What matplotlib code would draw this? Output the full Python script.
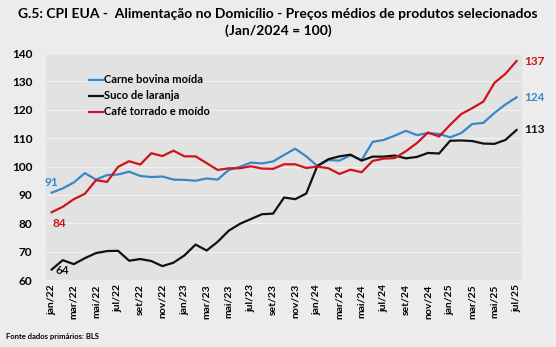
import matplotlib.pyplot as plt

plt.rcParams['font.family'] = ['Lato', 'DejaVu Sans']

meses = ["jan", "fev", "mar", "abr", "mai", "jun", "jul", "ago", "set", "out", "nov", "dez"]
datas = [f"{meses[m]}/{a}" for a in (22, 23, 24, 25) for m in range(12)][:43]

carne = [90.8, 92.3, 94.4, 97.7, 95.4, 97.0, 97.2, 98.2, 96.7, 96.3, 96.5, 95.4,
         95.3, 95.0, 95.8, 95.4, 98.8, 99.9, 101.4, 101.1, 101.8, 104.1, 106.3, 103.6,
         100.2, 102.3, 102.1, 104.0, 102.3, 108.7, 109.4, 110.9, 112.6, 111.1, 111.8, 111.5,
         110.3, 111.8, 115.0, 115.4, 118.9, 121.9, 124.4]
suco = [63.7, 67.0, 65.6, 67.7, 69.5, 70.2, 70.3, 66.8, 67.4, 66.7, 64.9, 66.1,
        68.7, 72.5, 70.4, 73.5, 77.4, 79.8, 81.5, 83.2, 83.4, 89.1, 88.5, 90.5,
        100.2, 102.6, 103.6, 104.2, 102.1, 103.5, 103.5, 103.9, 102.9, 103.4, 104.8, 104.6,
        109.1, 109.2, 109.0, 108.1, 108.0, 109.4, 112.9]
cafe = [83.9, 85.8, 88.5, 90.4, 95.2, 94.6, 99.9, 101.9, 100.7, 104.7, 103.7, 105.6,
        103.6, 103.6, 101.2, 98.8, 99.4, 99.4, 100.1, 99.3, 99.2, 100.8, 100.8, 99.5,
        100.0, 99.4, 97.4, 98.9, 98.0, 102.0, 102.8, 103.0, 105.4, 108.3, 112.0, 110.6,
        114.7, 118.5, 120.6, 122.9, 129.5, 132.7, 137.2]

series = [
    ("Carne bovina moída", carne, "#3A87C8"),
    ("Suco de laranja", suco, "#111111"),
    ("Café torrado e moído", cafe, "#D0121B"),
]

fig = plt.figure(figsize=(5.56, 3.47), dpi=100, facecolor="#ECECEC")
ax = fig.add_axes([0.083, 0.193, 0.856, 0.654], facecolor="#E2E2E2")

x = list(range(len(datas)))
for nome, vals, cor in series:
    ax.plot(x, vals, color=cor, lw=1.6, label=nome)

# rotulos de inicio e fim
ax.text(0, carne[0] + 1.5, f"{carne[0]:.0f}", color="#3A87C8", fontsize=8.5, fontweight="bold", ha="center", va="bottom")
ax.text(0.7, cafe[0] - 2.0, f"{cafe[0]:.0f}", color="#D0121B", fontsize=8.5, fontweight="bold", ha="center", va="top")
ax.text(1.0, suco[0] - 0.3, f"{suco[0]:.0f}", color="#111111", fontsize=8.5, fontweight="bold", ha="center", va="center")
for nome, vals, cor in series:
    ax.text(len(datas) - 0.3, vals[-1], f"{vals[-1]:.0f}", color=cor, fontsize=8.5,
            fontweight="bold", ha="left", va="center", clip_on=False)

ax.set_xlim(-0.5, len(datas) - 0.5)
ax.set_ylim(60, 140)
ax.set_yticks(range(60, 141, 10))
ax.set_xticks(x[::2])
ax.set_xticklabels(datas[::2], rotation=90, fontsize=7.5, fontweight="bold")
ax.tick_params(axis="y", labelsize=8.5, length=0, pad=10)
ax.tick_params(axis="x", length=0, pad=3)
for lbl in ax.get_yticklabels():
    lbl.set_fontweight("bold")
ax.grid(axis="y", color="#F2F2F2", lw=0.8)
ax.set_axisbelow(True)
for s in ax.spines.values():
    s.set_visible(False)

ax.legend(loc="upper left", bbox_to_anchor=(0.07, 0.95), frameon=False,
          handlelength=1.2, handletextpad=0.1, labelspacing=0.45,
          prop={"weight": "bold", "size": 8})

fig.text(0.5, 0.96, "G.5: CPI EUA -  Alimentação no Domicílio - Preços médios de produtos selecionados",
         ha="center", va="center", fontsize=10, fontweight="bold")
fig.text(0.5, 0.912, "(Jan/2024 = 100)", ha="center", va="center", fontsize=10, fontweight="bold")
fig.text(0.01, 0.03, "Fonte dados primários: BLS", ha="left", va="center", fontsize=5.5, fontweight="bold")

fig.savefig("out.png", dpi=100, facecolor=fig.get_facecolor())
